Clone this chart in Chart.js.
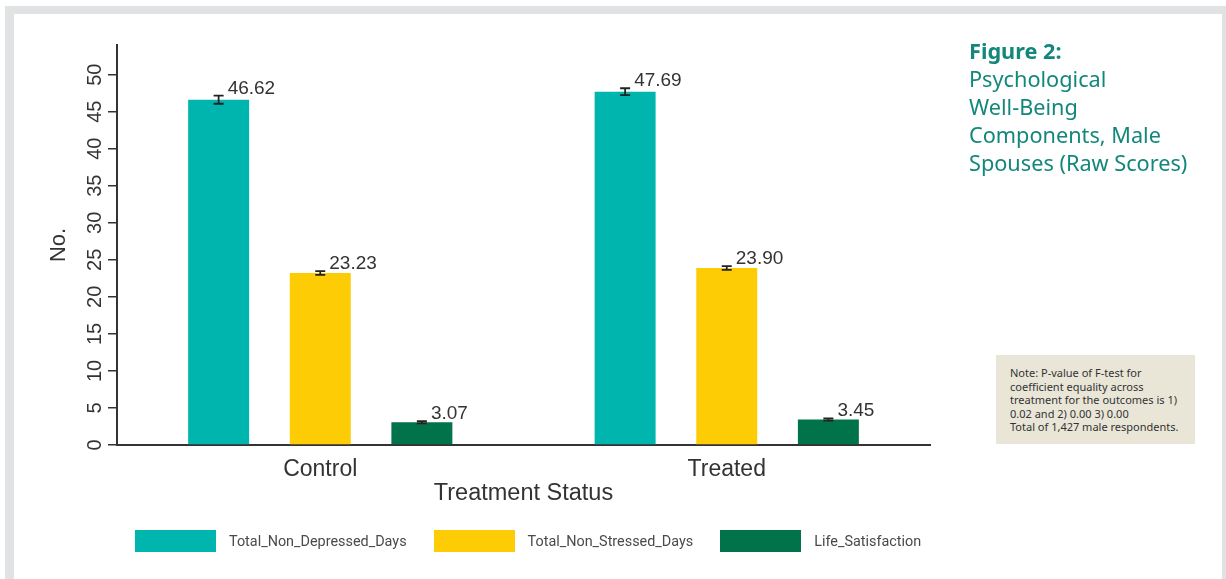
<!DOCTYPE html>
<html lang="en">
<head>
<meta charset="utf-8">
<title>Psychological Well-Being Components, Male Spouses</title>
<script src="https://cdn.jsdelivr.net/npm/chart.js@4.4.1/dist/chart.umd.min.js"></script>
<style>
    html, body { margin: 0; padding: 0; background: #fff; }
    body { width: 1226px; height: 579px; position: relative; overflow: hidden; }
    .marco {
        position: absolute; left: 5px; top: 6px; width: 1208px; height: 600px;
        border-left: 9px solid #e1e2e4; border-top: 8px solid #e1e2e4; border-right: 4px solid #e1e2e4;
    }
    #graficoBienestar { position: absolute; left: 0; top: 0; }
    .titulo {
        position: absolute; left: 969px; top: 37px; color: #13877b;
        font-family: "Noto Sans", sans-serif; font-size: 21.7px; line-height: 28px;
    }
    .titulo b { font-weight: 700; }
    .nota {
        position: absolute; left: 996px; top: 355px; width: 185px; height: 78px;
        background: #e9e6d8; padding: 11px 0 0 14px; color: #333;
        font-family: "Noto Sans", sans-serif; font-size: 11px; line-height: 13.6px;
    }
    #leyenda {
        position: absolute; left: 135px; top: 530px; display: flex; align-items: center;
        font-family: "Liberation Sans Narrow", "Roboto", sans-serif; font-size: 14.4px; color: #4a4a4a;
    }
    #leyenda .item { display: flex; align-items: center; margin-right: 27px; }
    #leyenda .caja { width: 81px; height: 22px; margin-right: 13px; }
</style>
</head>
<body>
<div class="marco"></div>
<canvas id="graficoBienestar" width="1226" height="579"></canvas>
<div class="titulo"><b>Figure 2:</b><br>Psychological<br>Well-Being<br>Components, Male<br>Spouses (Raw Scores)</div>
<div class="nota">Note: P-value of F-test for<br>coefficient equality across<br>treatment for the outcomes is 1)<br>0.02 and 2) 0.00 3) 0.00<br>Total of 1,427 male respondents.</div>
<div id="leyenda"></div>
<script>
// Datos de la figura
const grupos = ['Control', 'Treated'];
const series = ['Total_Non_Depressed_Days', 'Total_Non_Stressed_Days', 'Life_Satisfaction'];
const noDeprimidos = [46.62, 47.69];
const noEstresados = [23.23, 23.90];
const satisfaccion = [3.07, 3.45];
// medio intervalo de confianza de cada barra
const errNoDeprimidos = [0.55, 0.47];
const errNoEstresados = [0.25, 0.25];
const errSatisfaccion = [0.15, 0.15];
const ticksY = [0, 5, 10, 15, 20, 25, 30, 35, 40, 45, 50];
const colores = ['#00b5ad', '#fecc05', '#00734a'];

const fuenteEje = 'Liberation Sans';

// Barras de error y etiqueta del valor encima de cada barra
const barrasError = {
    id: 'barrasError',
    afterDatasetsDraw(chart) {
        const ctx = chart.ctx;
        const y = chart.scales.y;
        ctx.save();
        chart.data.datasets.forEach((ds, i) => {
            const meta = chart.getDatasetMeta(i);
            meta.data.forEach((bar, j) => {
                const v = ds.data[j];
                const e = ds.errores[j];
                const arriba = y.getPixelForValue(v + e);
                const abajo = y.getPixelForValue(v - e);
                ctx.strokeStyle = '#222';
                ctx.lineWidth = 1.8;
                ctx.beginPath();
                ctx.moveTo(bar.x, arriba);
                ctx.lineTo(bar.x, abajo);
                ctx.moveTo(bar.x - 5, arriba);
                ctx.lineTo(bar.x + 5, arriba);
                ctx.moveTo(bar.x - 5, abajo);
                ctx.lineTo(bar.x + 5, abajo);
                ctx.stroke();
                ctx.fillStyle = '#333';
                ctx.font = '19px ' + fuenteEje;
                ctx.textAlign = 'left';
                ctx.textBaseline = 'alphabetic';
                ctx.fillText(v.toFixed(2), bar.x + 9, arriba - 2);
            });
        });
        ctx.restore();
    }
};

function crearGrafico() {
    const ctx = document.getElementById('graficoBienestar').getContext('2d');
    const valores = [noDeprimidos, noEstresados, satisfaccion];
    const errores = [errNoDeprimidos, errNoEstresados, errSatisfaccion];
    const grafico = new Chart(ctx, {
        type: 'bar',
        data: {
            labels: grupos,
            datasets: series.map((nombre, i) => ({
                label: nombre,
                data: valores[i],
                errores: errores[i],
                backgroundColor: colores[i],
                barPercentage: 0.6,
                categoryPercentage: 0.75
            }))
        },
        options: {
            responsive: false,
            animation: false,
            layout: { padding: { left: 0, top: 45, right: 296, bottom: 59 } },
            plugins: {
                legend: { display: false },
                tooltip: { enabled: false }
            },
            scales: {
                x: {
                    grid: { display: false, drawTicks: false },
                    border: { display: true, color: '#333', width: 2 },
                    ticks: { color: '#333', padding: 11, font: { family: fuenteEje, size: 23 } },
                    title: {
                        display: true, text: 'Treatment Status', color: '#333',
                        font: { family: fuenteEje, size: 23.5 }, padding: { top: 0, bottom: 12 }
                    },
                    afterFit: scale => { scale.height = 75; }
                },
                y: {
                    min: 0,
                    max: 54,
                    grid: { drawOnChartArea: false, color: '#333', lineWidth: 1.5, tickLength: 9 },
                    border: { display: true, color: '#333', width: 2 },
                    ticks: {
                        color: '#333', padding: 1, minRotation: 90, maxRotation: 90,
                        crossAlign: 'center', font: { family: fuenteEje, size: 20 }
                    },
                    afterBuildTicks: scale => { scale.ticks = ticksY.map(v => ({ value: v })); },
                    title: {
                        display: true, text: 'No.', color: '#333',
                        font: { family: fuenteEje, size: 22 }, padding: { top: 46, bottom: 0 }
                    },
                    afterFit: scale => { scale.width = 117; }
                }
            }
        },
        plugins: [barrasError]
    });
    crearLeyenda(grafico);
}

function crearLeyenda(grafico) {
    const leyenda = document.getElementById('leyenda');
    leyenda.innerHTML = grafico.data.datasets.map(ds => `
        <div class="item">
            <div class="caja" style="background:${ds.backgroundColor}"></div>
            <span>${ds.label}</span>
        </div>
    `).join('');
}

document.addEventListener('DOMContentLoaded', crearGrafico);
</script>
</body>
</html>
